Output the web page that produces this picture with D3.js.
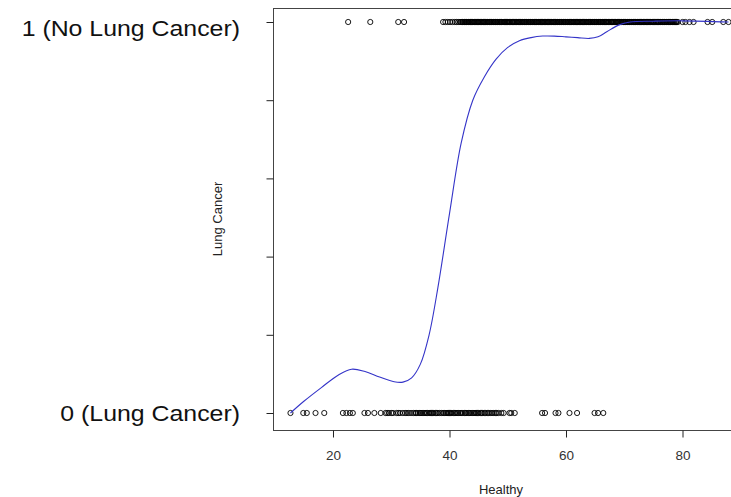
<!DOCTYPE html>
<html>
<head>
<meta charset="utf-8">
<script src="https://cdn.jsdelivr.net/npm/d3@7"></script>
<style>
  html, body { margin: 0; padding: 0; background: #fff; }
  svg { display: block; }
  text { font-family: "Liberation Sans", Arial, sans-serif; }
</style>
</head>
<body>
<svg id="chart" width="731" height="497"></svg>
<script>
// Observations with no lung cancer (outcome = 1), by Healthy score
const healthyNoCancer = [
  22.6, 26.4, 31.2, 32.2,
  38.9, 39.3, 39.7, 40.1, 40.5, 40.9, 41.2, 41.5, 41.8,
  42.0, 42.2, 42.3, 42.5, 42.6, 42.8, 42.9, 43.0, 43.2, 43.3, 43.5, 43.6, 43.8, 43.9,
  44.0, 44.2, 44.3, 44.5, 44.6, 44.8, 44.9, 45.0, 45.2, 45.3, 45.5, 45.6, 45.8, 45.9,
  46.0, 46.2, 46.3, 46.5, 46.6, 46.8, 46.9, 47.0, 47.2, 47.3, 47.5, 47.6, 47.8, 47.9,
  48.0, 48.2, 48.3, 48.5, 48.6, 48.8, 48.9, 49.0, 49.2, 49.4, 49.5, 49.6, 49.8, 49.9,
  50.0, 50.2, 50.3, 50.5, 50.7, 50.8, 50.9, 51.0, 51.2, 51.3, 51.5, 51.6, 51.8, 51.9,
  52.0, 52.2, 52.3, 52.5, 52.6, 52.8, 52.9, 53.0, 53.2, 53.3, 53.5, 53.6, 53.8, 53.9,
  54.0, 54.2, 54.3, 54.5, 54.6, 54.8, 54.9, 55.0, 55.2, 55.3, 55.5, 55.6, 55.8, 55.9,
  56.0, 56.2, 56.3, 56.5, 56.6, 56.8, 56.9, 57.0, 57.2, 57.3, 57.5, 57.6, 57.8, 57.9,
  58.0, 58.2, 58.3, 58.5, 58.6, 58.8, 58.9, 59.0, 59.2, 59.3, 59.5, 59.6, 59.8, 59.9,
  60.0, 60.2, 60.3, 60.5, 60.6, 60.8, 60.9, 61.0, 61.2, 61.3, 61.5, 61.6, 61.8, 61.9,
  62.0, 62.2, 62.3, 62.5, 62.6, 62.8, 62.9, 63.0, 63.2, 63.3, 63.5, 63.6, 63.8, 63.9,
  64.0, 64.2, 64.3, 64.5, 64.6, 64.8, 64.9, 65.0, 65.2, 65.3, 65.5, 65.6, 65.8, 65.9,
  66.0, 66.2, 66.3, 66.5, 66.6, 66.8, 66.9, 67.0, 67.2, 67.3, 67.5, 67.7, 67.8, 67.9,
  68.0, 68.2, 68.3, 68.5, 68.6, 68.8, 68.9, 69.0, 69.2, 69.3, 69.5, 69.6, 69.8, 69.9,
  70.0, 70.2, 70.3, 70.5, 70.6, 70.8, 70.9, 71.0, 71.2, 71.3, 71.5, 71.6, 71.8, 71.9,
  72.0, 72.2, 72.3, 72.5, 72.6, 72.8, 72.9, 73.0, 73.2, 73.3, 73.5, 73.6, 73.8, 73.9,
  74.0, 74.2, 74.3, 74.5, 74.6, 74.8, 74.9, 75.0, 75.2, 75.4, 75.5, 75.7, 75.8, 75.9,
  76.0, 76.2, 76.3, 76.5, 76.6, 76.8, 76.9, 77.0, 77.2, 77.3, 77.5, 77.6, 77.8, 77.9,
  78.0, 78.2, 78.3, 78.5, 78.6, 78.8, 78.9, 79.0, 79.2,
  80.0, 80.5, 81.2, 81.9, 84.3, 85.1, 87.0, 87.9
];

// Observations with lung cancer (outcome = 0), by Healthy score
const healthyCancer = [
  12.7, 14.9, 15.5, 17.0, 18.5, 21.7, 22.3, 22.9, 23.4, 25.4, 26.0, 27.1, 28.2,
  29.0, 29.3, 29.6, 30.0, 30.3, 30.9, 31.2, 31.5, 32.0, 32.4, 32.7, 33.0, 33.4,
  33.8, 34.1, 34.3, 34.6, 34.9, 35.1, 35.3, 35.6, 35.8, 36.0, 36.2, 36.5, 36.7,
  36.9, 37.1, 37.3, 37.6, 37.8, 38.0, 38.3, 38.6, 38.9, 39.1, 39.4, 39.6, 39.8,
  40.0, 40.2, 40.4, 40.7, 40.9, 41.1, 41.3, 41.5, 41.8, 42.0, 42.3, 42.6, 42.8,
  43.0, 43.3, 43.5, 43.7, 44.0, 44.2, 44.4, 44.6, 44.8, 45.0, 45.3, 45.5, 45.7,
  46.0, 46.2, 46.5, 46.7, 47.0, 47.3, 47.6, 47.9, 48.1, 48.4, 48.9, 49.3, 50.3,
  50.6, 51.2,
  55.9, 56.4, 58.2, 58.7, 60.6, 61.9, 64.9, 65.5, 66.4
];

// Smoothed probability of no lung cancer across the Healthy range
const fitX = [12.7, 15, 18, 21, 23.2, 25.5, 28, 30.5, 32, 33.5, 35, 36.5, 38, 40, 42, 44, 46, 48, 50, 52, 54, 56, 58, 60, 62, 64, 65.5, 67, 69, 71, 75, 80, 87.9];
const fitY = [0.000, 0.030, 0.065, 0.098, 0.112, 0.106, 0.092, 0.080, 0.079, 0.090, 0.125, 0.200, 0.320, 0.510, 0.690, 0.800, 0.860, 0.905, 0.935, 0.952, 0.960, 0.964, 0.964, 0.962, 0.960, 0.958, 0.962, 0.975, 0.992, 1.000, 1.002, 1.003, 1.000];

const xTicks = [20, 40, 60, 80];
const yTicks = [0, 0.2, 0.4, 0.6, 0.8, 1];
const yTickLabels = ["0 (Lung Cancer)", "1 (No Lung Cancer)"];
const xTitle = "Healthy";
const yTitle = "Lung Cancer";

const svg = d3.select("#chart");

const plot = { left: 273, top: 8, right: 746, bottom: 430 };

const x = d3.scaleLinear().domain([9.7, 90.9]).range([plot.left, plot.right]);
const y = d3.scaleLinear().domain([0, 1]).range([413, 22]);

// plot frame
svg.append("rect")
  .attr("x", plot.left + 0.5).attr("y", plot.top + 0.5)
  .attr("width", plot.right - plot.left).attr("height", plot.bottom - plot.top)
  .attr("fill", "none").attr("stroke", "#444").attr("stroke-width", 1);

// x axis
const xAxis = svg.append("g")
  .attr("transform", `translate(0,${plot.bottom + 0.5})`)
  .call(d3.axisBottom(x).tickValues(xTicks).tickSize(7).tickPadding(13).tickFormat(d3.format("d")));
xAxis.select(".domain").remove();
xAxis.selectAll(".tick line").attr("stroke", "#222");
xAxis.selectAll(".tick text").attr("font-size", 13.5).attr("fill", "#333")
  .style("font-family", '"Liberation Sans", Arial, sans-serif');

// y axis ticks
const yAxis = svg.append("g")
  .attr("transform", `translate(${plot.left + 0.5},0)`)
  .call(d3.axisLeft(y).tickValues(yTicks).tickSize(7).tickFormat(""));
yAxis.select(".domain").remove();
yAxis.selectAll(".tick line").attr("stroke", "#222");

// outcome labels at the two ends of the y axis (slightly wide lettering)
svg.append("g").selectAll("text")
  .data([0, 1])
  .join("text")
  .attr("x", 240)
  .attr("y", d => d === 1 ? y(d) + 14 : y(d) + 8)
  .attr("text-anchor", "end")
  .attr("font-size", 22)
  .attr("fill", "#111")
  .text((d, i) => yTickLabels[i])
  .each(function () {
    const w = this.getComputedTextLength();
    d3.select(this).attr("textLength", w * 1.13).attr("lengthAdjust", "spacingAndGlyphs");
  });

// axis titles
svg.append("text")
  .attr("x", 501).attr("y", 494)
  .attr("text-anchor", "middle")
  .attr("font-size", 13).attr("fill", "#222")
  .text(xTitle);

svg.append("text")
  .attr("transform", `translate(221.5,219) rotate(-90)`)
  .attr("text-anchor", "middle")
  .attr("font-size", 13).attr("fill", "#222")
  .text(yTitle);

// observations
const pts = svg.append("g").attr("fill", "none").attr("stroke", "#000").attr("stroke-width", 0.9);
pts.selectAll("circle.one")
  .data(healthyNoCancer)
  .join("circle").attr("class", "one")
  .attr("cx", d => x(d)).attr("cy", y(1)).attr("r", 2.6);
pts.selectAll("circle.zero")
  .data(healthyCancer)
  .join("circle").attr("class", "zero")
  .attr("cx", d => x(d)).attr("cy", y(0)).attr("r", 2.6);

// smoothed fit
const fit = fitX.map((v, i) => [v, fitY[i]]);
svg.append("path")
  .datum(fit)
  .attr("fill", "none")
  .attr("stroke", "#3434c8")
  .attr("stroke-width", 1.1)
  .attr("d", d3.line().x(d => x(d[0])).y(d => y(d[1])).curve(d3.curveCatmullRom.alpha(0.5)));
</script>
</body>
</html>
